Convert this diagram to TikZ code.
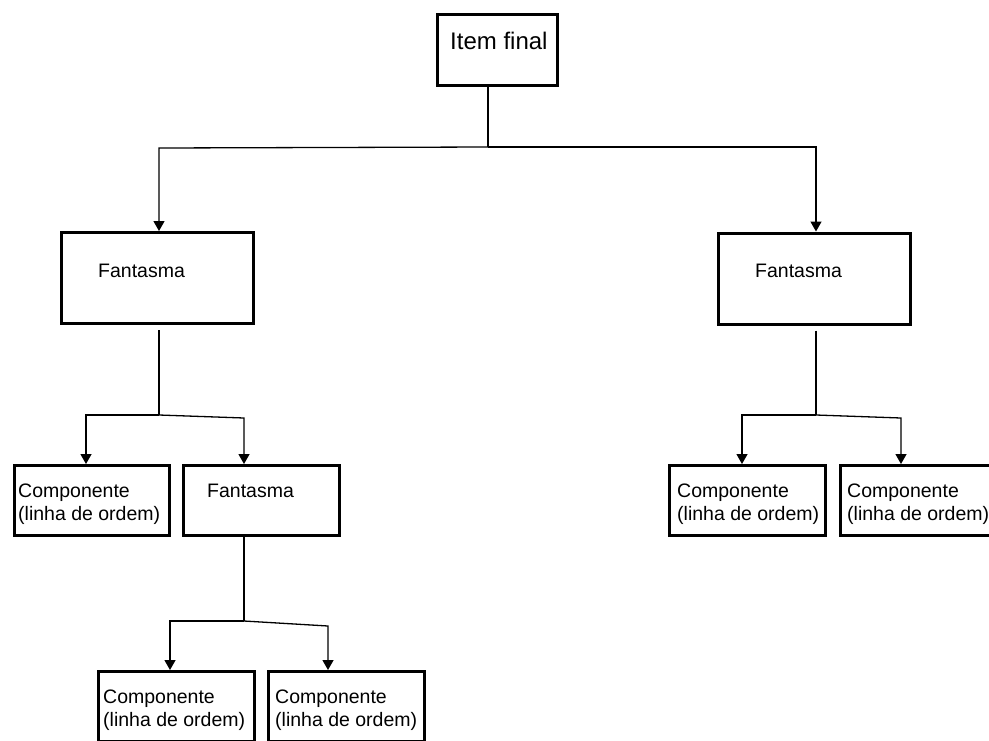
\documentclass[tikz,border=0pt]{standalone}
\usepackage{fontspec}
\setmainfont{Liberation Sans}
\usetikzlibrary{arrows.meta}
\begin{document}
\begin{tikzpicture}[x=1pt,y=-1pt,
  box/.style={draw,line width=3pt,inner sep=0pt,minimum width=156pt,minimum height=70pt},
  txt/.style={inner sep=0pt,anchor=base west,align=left,font=\fontsize{19.5}{23.5}\selectfont},
  conn/.style={line width=1.3pt},
  arr/.style={line width=1.3pt,-{Triangle[length=10pt,width=11pt]}}]
\useasboundingbox (0,0) rectangle (989,740);
\clip (0,0) rectangle (989,740);
% boxes
\node[box,minimum width=120pt,minimum height=71pt] (top) at (497.5,50) {};
\node[box,minimum width=192pt,minimum height=91pt] (f1) at (157.5,278) {};
\node[box,minimum width=192pt,minimum height=91pt] (f2) at (814.5,278.5) {};
\node[box,minimum width=155pt] (c1) at (92,500.5) {};
\node[box] (f3) at (261.5,500.5) {};
\node[box] (c2) at (747.5,500.5) {};
\node[box] (c3) at (918,500.5) {};
\node[box] (c4) at (176,706.5) {};
\node[box] (c5) at (346.5,706.5) {};
% texts
\node[txt,font=\fontsize{24}{28}\selectfont] (ttop) at (450,49) {Item final};
\node[txt] (tf1) at (98,277) {Fantasma};
\node[txt] (tf2) at (755,277) {Fantasma};
\node[txt] (tf3) at (207,497) {Fantasma};
\node[txt] (tc1) at (18,520.5) {Componente\\(linha de ordem)};
\node[txt] (tc2) at (677,520.5) {Componente\\(linha de ordem)};
\node[txt] (tc3) at (847,520.5) {Componente\\(linha de ordem)};
\node[txt] (tc4) at (103,726.5) {Componente\\(linha de ordem)};
\node[txt] (tc5) at (275,726.5) {Componente\\(linha de ordem)};
% junctions
\coordinate (j0) at (488,147);
\coordinate (b0l) at (159,148);
\coordinate (b0r) at (816,147);
\coordinate (j1) at (159,415);
\coordinate (b1l) at (86,415);
\coordinate (b1r) at (244,418);
\coordinate (j2) at (244,621);
\coordinate (b2l) at (170,621);
\coordinate (b2r) at (328,626);
\coordinate (j3) at (816,415);
\coordinate (b3l) at (742,415);
\coordinate (b3r) at (901,418);
% connectors
\draw[conn] (j0 |- top.south) -- (j0);
\draw[arr] (j0) -- (b0l) -- (b0l |- f1.north);
\draw[arr] (j0) -- (b0r) -- (b0r |- f2.north);
\draw[conn,shorten <=5pt] (j1 |- f1.south) -- (j1);
\draw[arr] (j1) -- (b1l) -- (b1l |- c1.north);
\draw[arr] (j1) -- (b1r) -- (b1r |- f3.north);
\draw[conn] (j2 |- f3.south) -- (j2);
\draw[arr] (j2) -- (b2l) -- (b2l |- c4.north);
\draw[arr] (j2) -- (b2r) -- (b2r |- c5.north);
\draw[conn,shorten <=5pt] (j3 |- f2.south) -- (j3);
\draw[arr] (j3) -- (b3l) -- (b3l |- c2.north);
\draw[arr] (j3) -- (b3r) -- (b3r |- c3.north);
\end{tikzpicture}
\end{document}
